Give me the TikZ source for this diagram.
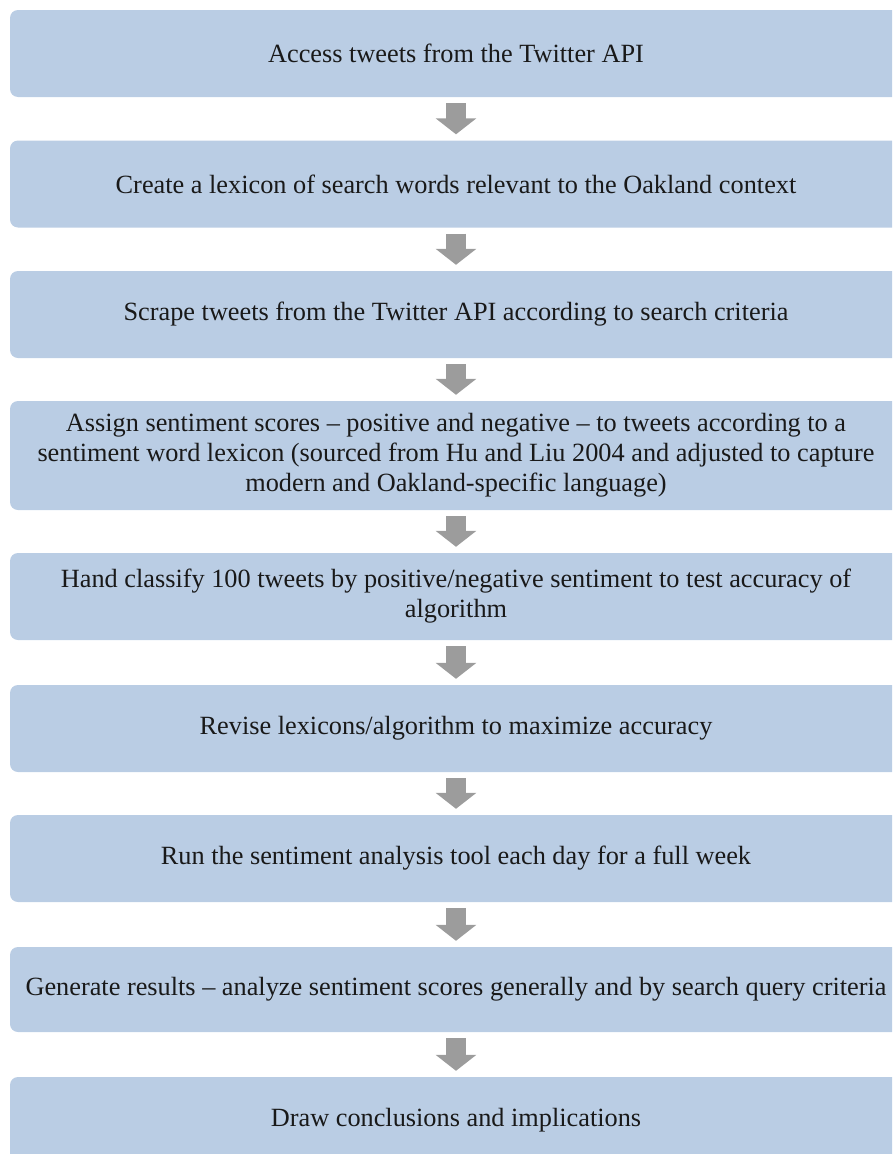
\documentclass[tikz,border=0pt]{standalone}
\usepackage{fontspec}
\setmainfont{Liberation Serif}
\usetikzlibrary{arrows.meta}
\definecolor{boxblue}{HTML}{BACDE4}
\definecolor{arrowgray}{HTML}{9C9C9C}
\begin{document}
\begin{tikzpicture}[x=1pt, y=1pt,
		fase/.style={fill=boxblue, rounded corners=8pt, minimum width=892pt, minimum height=87pt,
			inner sep=0pt, align=center, text=black!90, font=\fontsize{26.3pt}{30pt}\selectfont},
		freccia/.style={arrowgray, line width=20pt, -{Triangle[width=40pt, length=16pt]},
			shorten <=6pt, shorten >=6pt}]
			% cornice
			\useasboundingbox (0, 0) rectangle (892, -1154);
			\clip (0, 0) rectangle (892, -1154);
			% fasi
			\node[fase] (b1) at (456, -53.5) {Access tweets from the Twitter API};
			\node[fase] (b2) at (456, -184) {Create a lexicon of search words relevant to the Oakland context};
			\node[fase] (b3) at (456, -314.5) {Scrape tweets from the Twitter API according to search criteria};
			\node[fase, minimum height=109pt] (b4) at (456, -455.5) {Assign sentiment scores -- positive and negative -- to tweets according to a\\sentiment word lexicon (sourced from Hu and Liu 2004 and adjusted to capture\\modern and Oakland-specific language)};
			\node[fase] (b5) at (456, -596.5) {Hand classify 100 tweets by positive/negative sentiment to test accuracy of\\algorithm};
			\node[fase] (b6) at (456, -728.5) {Revise lexicons/algorithm to maximize accuracy};
			\node[fase] (b7) at (456, -858.5) {Run the sentiment analysis tool each day for a full week};
			\node[fase, minimum height=85pt] (b8) at (456, -989.5) {Generate results -- analyze sentiment scores generally and by search query criteria};
			\node[fase] (b9) at (456, -1120.5) {Draw conclusions and implications};
			% frecce
			\draw[freccia] (b1.south) -- (b2.north);
			\draw[freccia] (b2.south) -- (b3.north);
			\draw[freccia] (b3.south) -- (b4.north);
			\draw[freccia] (b4.south) -- (b5.north);
			\draw[freccia] (b5.south) -- (b6.north);
			\draw[freccia] (b6.south) -- (b7.north);
			\draw[freccia] (b7.south) -- (b8.north);
			\draw[freccia] (b8.south) -- (b9.north);
		\end{tikzpicture}
\end{document}
